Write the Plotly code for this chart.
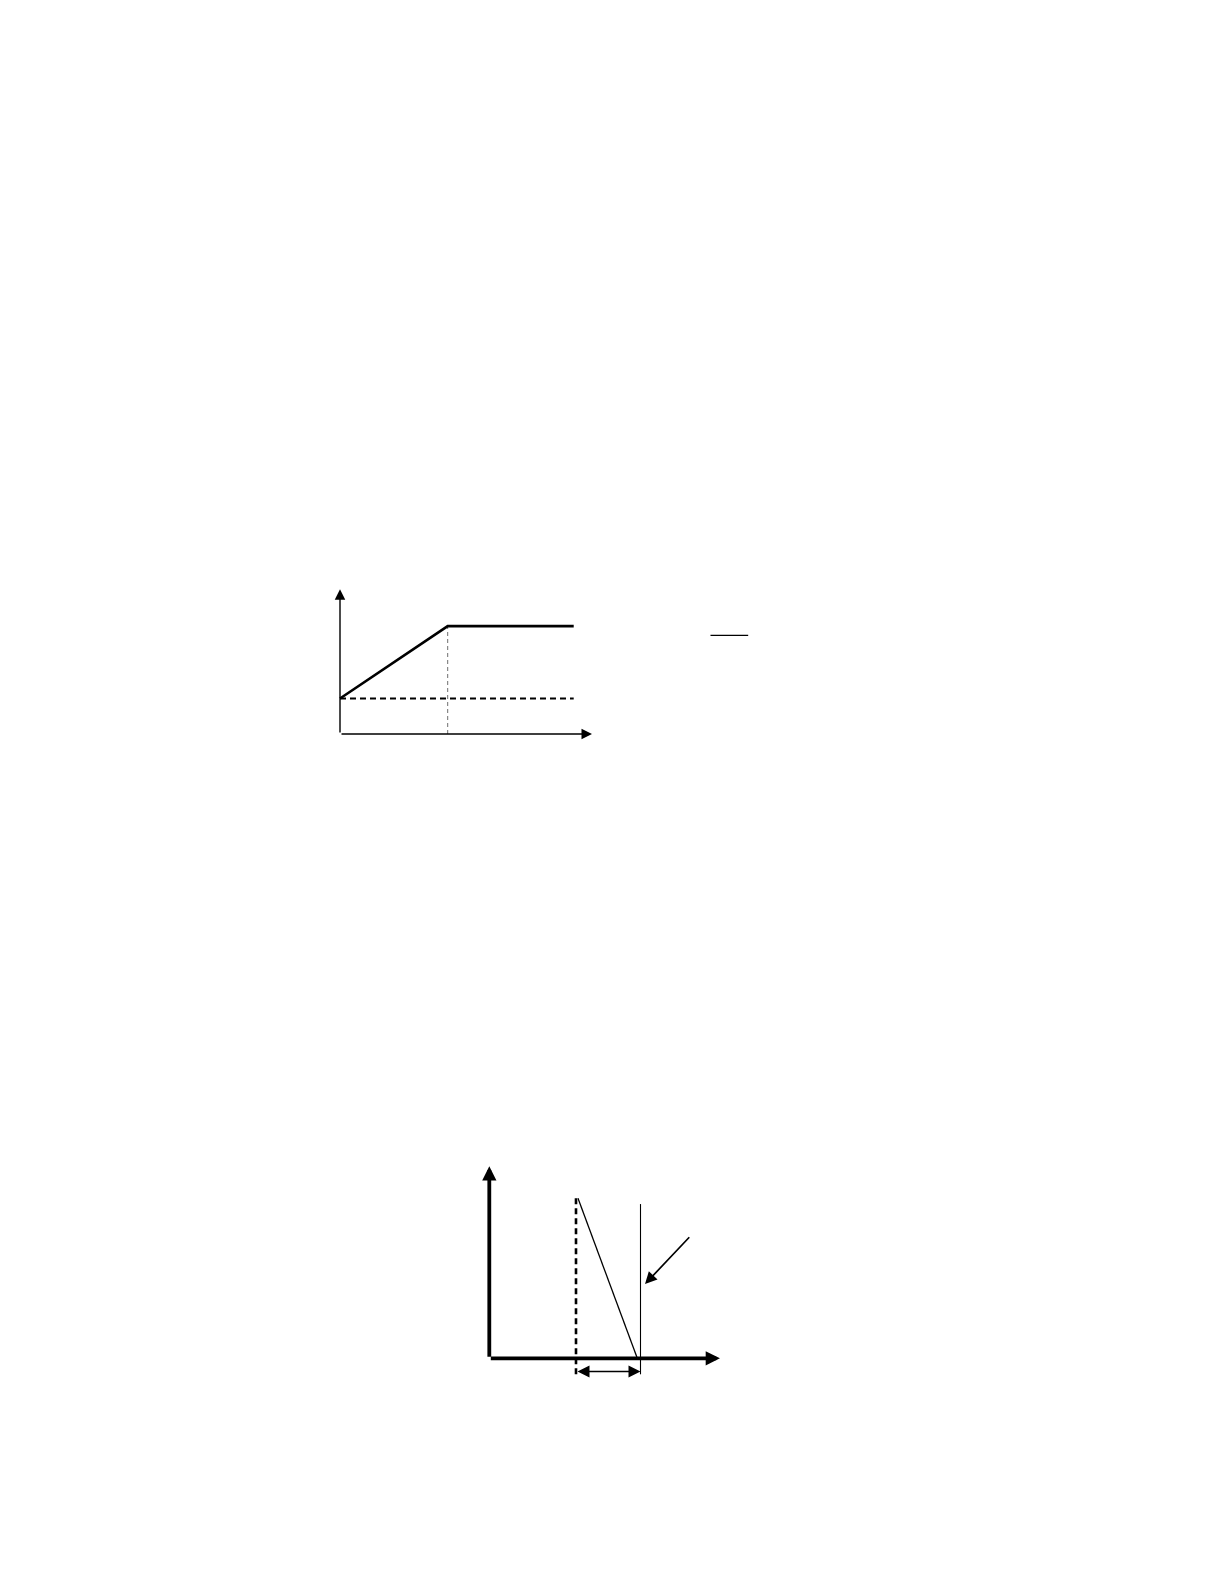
import plotly.graph_objects as go

W, H = 1224, 1584
PAD = 8  # default body margin of the html page

# ---- upper sketch: linear rise to a knee, then flat; dashed base level ----
up_curve_x = [0.0, 1.0, 2.17]
up_curve_y = [1.0, 3.04, 3.04]
up_base_x = [0.0, 2.17]
up_base_y = [1.0, 1.0]
up_knee_x = [1.0, 1.0]
up_knee_y = [0.0, 3.04]
up_bar_x = [3.44, 3.79]
up_bar_y = [2.78, 2.78]
up_xaxis_end = 2.34
up_yaxis_end = 4.08

# ---- lower sketch: dashed start, falling edge, thin vertical, gap marker ----
lo_dash_x = [1.0, 1.0]
lo_dash_y = [-0.10, 1.0]
lo_slope_x = [1.023, 1.707]
lo_slope_y = [1.0, 0.0]
lo_edge_x = [1.744, 1.744]
lo_edge_y = [-0.10, 0.964]
lo_xaxis_end = 2.66
lo_yaxis_end = 1.20
lo_pointer_tail = [2.323, 0.766]
lo_pointer_tip = [1.796, 0.464]
lo_gap_y = -0.083


def xrange_for(px0, unit):
    px0 -= PAD
    return [(0 - px0) / unit, (W - px0) / unit]


def ydomain_for(top, bottom):
    return [1 - (bottom - PAD) / H, 1 - (top - PAD) / H]


def yrange_for(px0, unit, top, bottom):
    return [(px0 - bottom) / unit, (px0 - top) / unit]


fig = go.Figure()

# upper sketch traces
fig.add_trace(go.Scatter(x=up_knee_x, y=up_knee_y, mode="lines",
                         line=dict(color="#6e6e6e", width=1, dash="4px,3px")))
fig.add_trace(go.Scatter(x=up_base_x, y=up_base_y, mode="lines",
                         line=dict(color="black", width=2, dash="6px,4px")))
fig.add_trace(go.Scatter(x=up_curve_x, y=up_curve_y, mode="lines",
                         line=dict(color="black", width=2.6)))
fig.add_trace(go.Scatter(x=up_bar_x, y=up_bar_y, mode="lines",
                         line=dict(color="black", width=1.2)))

# lower sketch traces
fig.add_trace(go.Scatter(x=lo_dash_x, y=lo_dash_y, mode="lines",
                         line=dict(color="black", width=2.6, dash="6px,4px"),
                         xaxis="x2", yaxis="y2"))
fig.add_trace(go.Scatter(x=lo_slope_x, y=lo_slope_y, mode="lines",
                         line=dict(color="black", width=1.3),
                         xaxis="x2", yaxis="y2"))
fig.add_trace(go.Scatter(x=lo_edge_x, y=lo_edge_y, mode="lines",
                         line=dict(color="black", width=1.1),
                         xaxis="x2", yaxis="y2"))

arrows = []
# upper axes
for tip, tail in [((up_xaxis_end, 0), (0, 0)), ((0, up_yaxis_end), (0, 0))]:
    arrows.append(dict(x=tip[0], y=tip[1], ax=tail[0], ay=tail[1],
                       xref="x", yref="y", axref="x", ayref="y", text="",
                       showarrow=True, arrowhead=2, arrowsize=1.5,
                       arrowwidth=1.4, arrowcolor="black"))
# lower axes
for tip, tail in [((lo_xaxis_end, 0), (0, 0)), ((0, lo_yaxis_end), (0, 0))]:
    arrows.append(dict(x=tip[0], y=tip[1], ax=tail[0], ay=tail[1],
                       xref="x2", yref="y2", axref="x2", ayref="y2", text="",
                       showarrow=True, arrowhead=2, arrowsize=0.75,
                       arrowwidth=3.8, arrowcolor="black"))
# pointer arrow
arrows.append(dict(x=lo_pointer_tip[0], y=lo_pointer_tip[1],
                   ax=lo_pointer_tail[0], ay=lo_pointer_tail[1],
                   xref="x2", yref="y2", axref="x2", ayref="y2", text="",
                   showarrow=True, arrowhead=2, arrowsize=1.4,
                   arrowwidth=1.7, arrowcolor="black"))
# gap double arrow
arrows.append(dict(x=lo_edge_x[0], y=lo_gap_y, ax=lo_dash_x[0], ay=lo_gap_y,
                   xref="x2", yref="y2", axref="x2", ayref="y2", text="",
                   showarrow=True, arrowhead=2, startarrowhead=2,
                   arrowside="end+start", arrowsize=1.6, startarrowsize=1.6,
                   arrowwidth=1.5, arrowcolor="black"))

fig.update_layout(
    width=W, height=H,
    margin=dict(l=0, r=0, t=0, b=0),
    paper_bgcolor="white", plot_bgcolor="white",
    showlegend=False,
    xaxis=dict(domain=[0, 1], range=xrange_for(340, 107.7), visible=False),
    yaxis=dict(domain=ydomain_for(540, 800),
               range=yrange_for(734, 35.5, 540, 800), visible=False),
    xaxis2=dict(domain=[0, 1], range=xrange_for(489.3, 86.7), visible=False,
                anchor="y2"),
    yaxis2=dict(domain=ydomain_for(1100, 1430),
                range=yrange_for(1358.3, 160, 1100, 1430),
                visible=False, anchor="x2"),
    annotations=arrows,
)

fig.write_html("out.html")
